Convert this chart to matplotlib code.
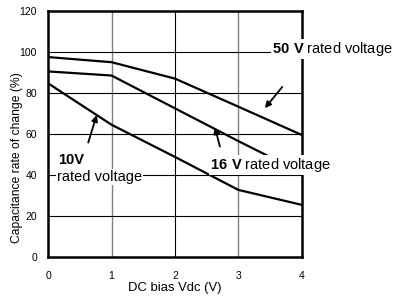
import matplotlib.pyplot as plt

plt.rcParams['font.family'] = ['Liberation Sans', 'DejaVu Sans']
plt.rcParams['mathtext.fontset'] = 'custom'
plt.rcParams['mathtext.rm'] = 'Liberation Sans'
plt.rcParams['mathtext.bf'] = 'Liberation Sans:bold'

# data
bias = [0, 1, 2, 3, 4]
cap_50v = [97.5, 95, 87, 73.3, 59.5]
cap_16v = [90.5, 88.5, 72.5, 56.5, 41]
cap_10v = [84.7, 64.5, 48.8, 32.7, 25.4]

x_ticks = [0, 1, 2, 3, 4]
y_ticks = [0, 20, 40, 60, 80, 100, 120]

fig = plt.figure(figsize=(3.94, 2.96), dpi=100)
ax = fig.add_axes([0.122, 0.132, 0.644, 0.831])

# grid
for x in [1, 3]:
    ax.axvline(x, color='#808080', lw=1.0, zorder=1)
ax.axvline(2, color='black', lw=0.8, zorder=1)
for y in [20, 40, 60, 80, 100]:
    ax.axhline(y, color='black', lw=0.8, zorder=1)

for vals in [cap_50v, cap_16v, cap_10v]:
    ax.plot(bias, vals, color='black', lw=1.6, zorder=2)

ax.set_xlim(0, 4)
ax.set_ylim(0, 120)
ax.set_xticks(x_ticks)
ax.set_yticks(y_ticks)
ax.tick_params(length=0, labelsize=7.5)
ax.tick_params(axis='x', pad=10)
ax.tick_params(axis='y', pad=8)
for s in ax.spines.values():
    s.set_linewidth(1.8)
    s.set_zorder(3)

ax.set_xlabel('DC bias Vdc (V)', fontsize=9.4, labelpad=1)
fig.text(17 / 394, 1 - 158 / 296, 'Capacitance rate of change (%)',
         fontsize=8.7, rotation=90, ha='center', va='center')

# arrows
ap = dict(arrowstyle='-|>', color='black', lw=1.3, mutation_scale=9)
ax.annotate('', xy=(3.39, 71.5), xytext=(3.72, 84), arrowprops=ap)
ax.annotate('', xy=(2.62, 64.5), xytext=(2.72, 52.5), arrowprops=ap)
ax.annotate('', xy=(0.78, 70.5), xytext=(0.62, 54.5), arrowprops=ap)

# labels
bb = dict(facecolor='white', edgecolor='none', pad=0.5)
fig.text(272 / 394, 1 - 49 / 296, r'$\mathbf{50\ V}$ rated voltage',
         fontsize=10.5, va='center', ha='left', bbox=bb, zorder=6)
fig.text(210 / 394, 1 - 165 / 296, r'$\mathbf{16\ V}$ rated voltage',
         fontsize=10.5, va='center', ha='left', bbox=bb, zorder=6)
fig.text(58 / 394, 1 - 160 / 296, '10V', fontsize=10.5, fontweight='bold',
         va='center', ha='left')
fig.text(57 / 394, 1 - 177 / 296, 'rated voltage', fontsize=10.5,
         va='center', ha='left', bbox=bb, zorder=6)

fig.savefig('out.png', dpi=100)
